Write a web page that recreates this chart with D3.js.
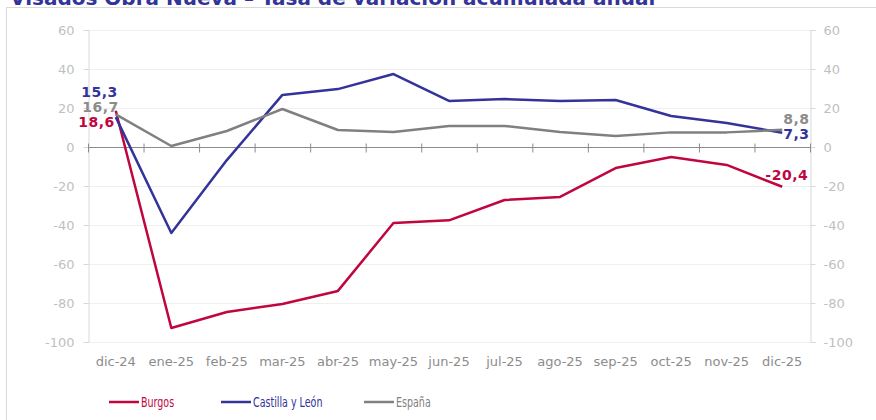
<!DOCTYPE html>
<html>
<head>
<meta charset="utf-8">
<script src="https://cdn.jsdelivr.net/npm/d3@7"></script>
<style>
  body { margin: 0; background: #fff; }
  svg { display: block; font-family: "DejaVu Sans", Tahoma, sans-serif; }
</style>
</head>
<body>
<div id="chart"></div>
<script>
//Datos
const meses = ['dic-24','ene-25','feb-25','mar-25','abr-25','may-25','jun-25','jul-25','ago-25','sep-25','oct-25','nov-25','dic-25'];
const burgos = [18.6, -92.8, -84.6, -80.5, -73.8, -39.0, -37.6, -27.2, -25.6, -10.8, -5.1, -9.2, -20.4];
const castilla = [15.3, -44.1, -6.7, 26.7, 29.7, 37.4, 23.6, 24.6, 23.6, 24.1, 15.9, 12.3, 7.3];
const espana = [16.7, 0.5, 8.2, 19.5, 8.7, 7.7, 10.8, 10.8, 7.7, 5.6, 7.5, 7.5, 8.8];
const yTicks = [60, 40, 20, 0, -20, -40, -60, -80, -100];

//Colores
const COLOR_BURGOS = '#C0063F',
COLOR_CYL = '#333399',
COLOR_ESP = '#808080';

const series = [
    { name: 'Burgos', values: burgos, color: COLOR_BURGOS },
    { name: 'Castilla y León', values: castilla, color: COLOR_CYL },
    { name: 'España', values: espana, color: COLOR_ESP }
];

let W = 876, H = 420;
let margin = {top: 30, right: 66, bottom: 78, left: 88},
    width = W - margin.left - margin.right,
    height = H - margin.top - margin.bottom;

let root = d3.select('#chart').append('svg')
    .attr('width', W)
    .attr('height', H);

//Marco
root.append('rect')
    .attr('x', 6.5).attr('y', 7.5)
    .attr('width', W).attr('height', H)
    .attr('fill', 'none')
    .attr('stroke', '#d9d9d9');

//Título (cortado arriba, como en la captura)
root.append('text')
    .attr('x', 10).attr('y', 5)
    .attr('fill', COLOR_CYL)
    .attr('font-size', 20)
    .attr('font-weight', 'bold')
    .text('Visados Obra Nueva – Tasa de variación acumulada anual');

let svg = root.append('g')
    .attr('transform', 'translate(' + margin.left + ',' + margin.top + ')');

let x = d3.scaleBand()
    .domain(meses)
    .range([0, width]);

let y = d3.scaleLinear()
    .domain([-100, 60])
    .range([height, 0]);

//Rejilla
svg.append('g')
    .selectAll('line')
    .data(yTicks)
    .enter()
    .append('line')
    .attr('x1', 0).attr('x2', width)
    .attr('y1', d => y(d) + 0.5).attr('y2', d => y(d) + 0.5)
    .attr('stroke', '#efefef')
    .attr('stroke-width', 1);

//Ejes verticales
let tickFmt = d => String(d);
let styleAxis = function(g) {
    g.select('.domain').attr('stroke', '#d9d9d9');
    g.selectAll('.tick line').attr('stroke', '#d9d9d9');
    g.selectAll('.tick text').attr('fill', '#bfbfbf').attr('font-size', 13).attr('font-family', 'DejaVu Sans, sans-serif');
};
svg.append('g')
    .attr('transform', 'translate(0.5,0)')
    .call(d3.axisLeft(y).tickValues(yTicks).tickSize(5).tickPadding(9).tickFormat(tickFmt))
    .call(styleAxis);
svg.append('g')
    .attr('transform', 'translate(' + (width + 0.5) + ',0)')
    .call(d3.axisRight(y).tickValues(yTicks).tickSize(5).tickPadding(8).tickFormat(tickFmt))
    .call(styleAxis);

//Eje X en el cero
let zeroAxis = svg.append('g').attr('transform', 'translate(0,' + (y(0) + 0.5) + ')');
zeroAxis.append('line')
    .attr('x1', 0).attr('x2', width)
    .attr('stroke', '#8c8c8c').attr('stroke-width', 1.2);
zeroAxis.selectAll('.tk')
    .data(meses.concat(['__fin']))
    .enter()
    .append('line')
    .attr('x1', (d, i) => (i < meses.length ? x(d) : width) + 0.5)
    .attr('x2', (d, i) => (i < meses.length ? x(d) : width) + 0.5)
    .attr('y1', -4).attr('y2', 5)
    .attr('stroke', '#8c8c8c');

//Etiquetas X abajo
svg.append('g')
    .selectAll('text')
    .data(meses)
    .enter()
    .append('text')
    .attr('x', d => x(d) + x.bandwidth() / 2)
    .attr('y', height + 24)
    .attr('text-anchor', 'middle')
    .attr('fill', '#8c8c8c')
    .attr('font-size', 13)
    .text(d => d);

//Líneas
let line = d3.line()
    .x((d, i) => x(meses[i]) + x.bandwidth() / 2)
    .y(d => y(d));

series.forEach(function(s) {
    svg.append('path')
        .datum(s.values)
        .attr('fill', 'none')
        .attr('stroke', s.color)
        .attr('stroke-width', 2.5)
        .attr('stroke-linejoin', 'round')
        .attr('d', line);
});

//Etiquetas de datos
let fmt = v => v.toFixed(1).replace('.', ',');
let cx0 = x(meses[0]) + x.bandwidth() / 2,
    cxN = x(meses[meses.length - 1]) + x.bandwidth() / 2;
let labels = [
    { v: castilla[0], x: cx0, y: y(castilla[0]) - 20, color: COLOR_CYL, anchor: 'end', dx: 2 },
    { v: espana[0], x: cx0, y: y(espana[0]) - 2, color: '#8c8c8c', anchor: 'end', dx: 3 },
    { v: burgos[0], x: cx0, y: y(burgos[0]) + 16, color: COLOR_BURGOS, anchor: 'end', dx: -1 },
    { v: espana[12], x: cxN, y: y(espana[12]) - 6, color: '#8c8c8c', anchor: 'start', dx: 1 },
    { v: castilla[12], x: cxN, y: y(castilla[12]) + 6, color: COLOR_CYL, anchor: 'start', dx: 1 },
    { v: burgos[12], x: cxN, y: y(burgos[12]) - 7, color: COLOR_BURGOS, anchor: 'end', dx: 26 }
];
svg.append('g')
    .selectAll('text')
    .data(labels)
    .enter()
    .append('text')
    .attr('x', d => d.x + d.dx)
    .attr('y', d => d.y)
    .attr('text-anchor', d => d.anchor)
    .attr('fill', d => d.color)
    .attr('font-size', 14)
    .attr('font-weight', 'bold')
    .attr('letter-spacing', 0.5)
    .text(d => fmt(d.v));

//Leyenda (letra estrecha: se comprime en horizontal)
let legendX = [109, 221, 364];
let legend = root.append('g').selectAll('g')
    .data(series)
    .enter()
    .append('g')
    .attr('transform', (d, i) => 'translate(' + legendX[i] + ',402)');
legend.append('line')
    .attr('x1', 0).attr('x2', 30)
    .attr('stroke', d => d.color)
    .attr('stroke-width', 2.5);
legend.append('text')
    .attr('transform', 'translate(32,5) scale(0.68,1)')
    .attr('fill', d => d.color)
    .attr('font-size', 14)
    .text(d => d.name);
</script>
</body>
</html>
